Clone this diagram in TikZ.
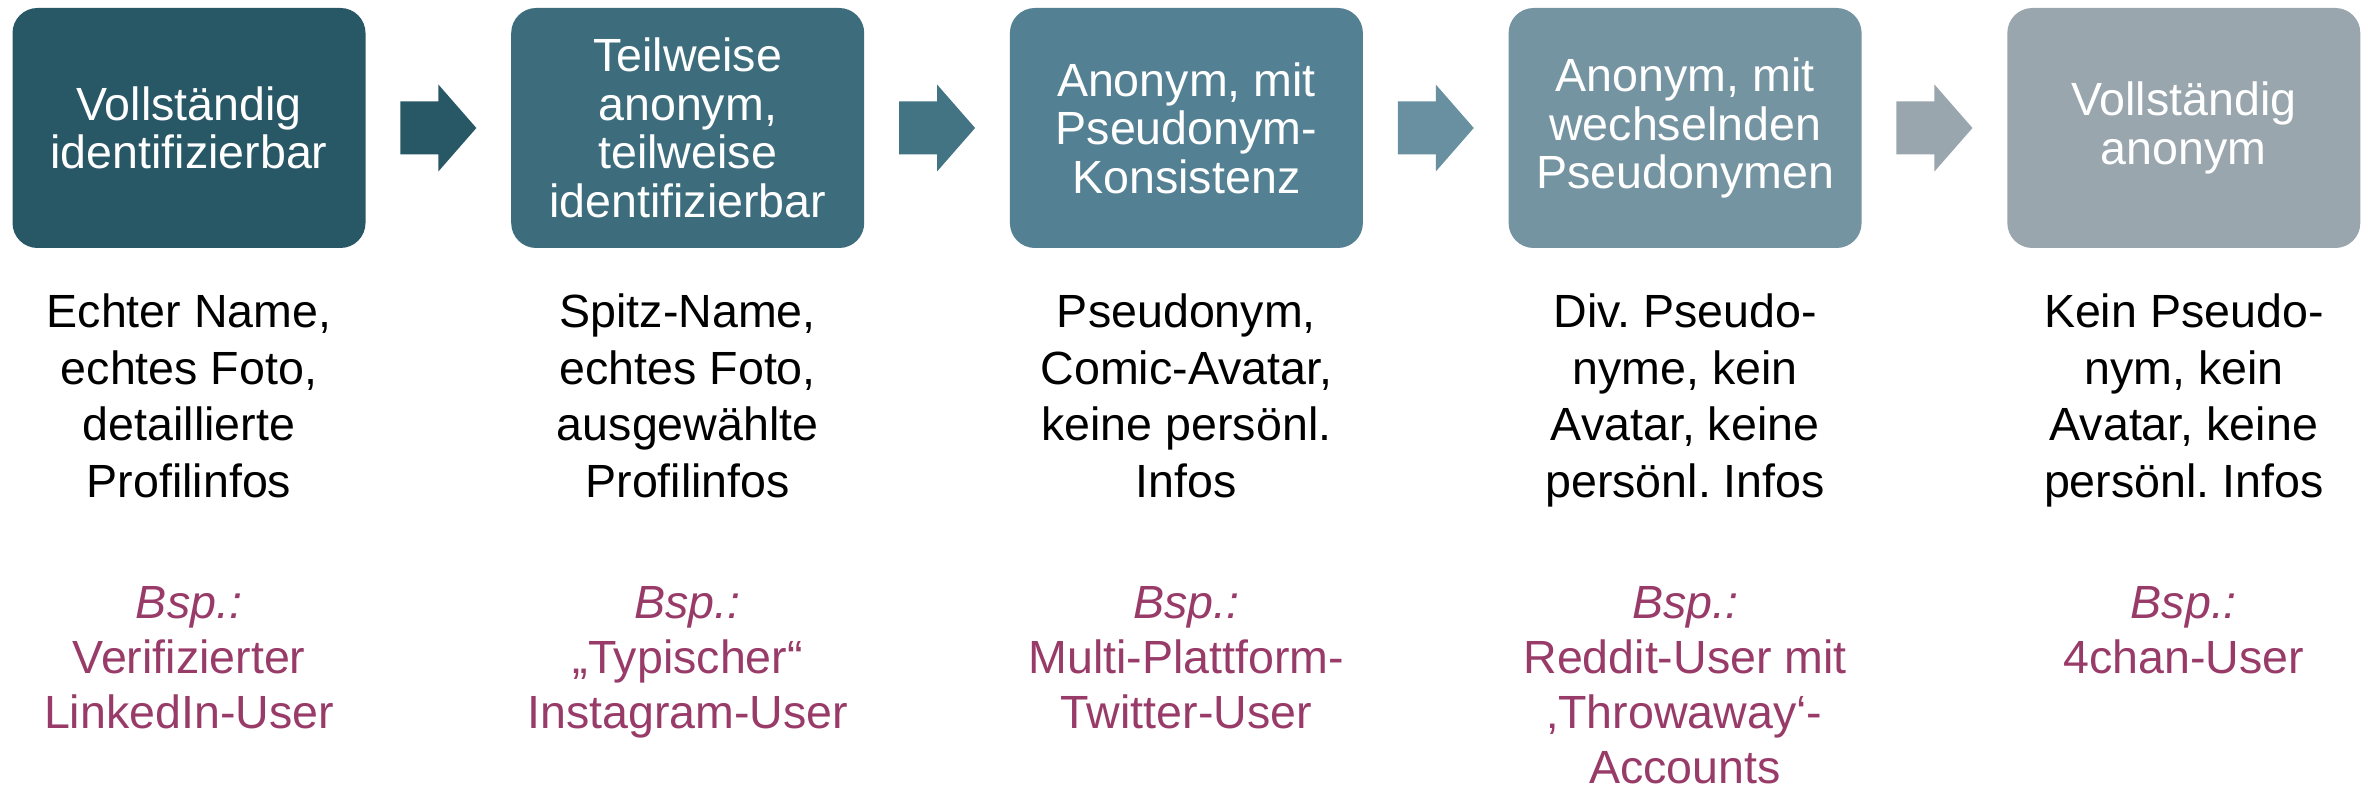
\documentclass[tikz,border=0pt]{standalone}
\usepackage{fontspec}
\setmainfont{Liberation Sans}
\usepackage{tikz}
\usetikzlibrary{calc,positioning}
\usepackage{xcolor}
\definecolor{stageA}{HTML}{285866}
\definecolor{stageB}{HTML}{3D6D7D}
\definecolor{stageC}{HTML}{538193}
\definecolor{stageD}{HTML}{7494A1}
\definecolor{stageE}{HTML}{99A6AE}
\definecolor{arrowB}{HTML}{427484}
\definecolor{arrowC}{HTML}{6890A0}
\definecolor{bspcol}{HTML}{983B68}
\frenchspacing

\begin{document}
\begin{tikzpicture}[
  stage/.style={rounded corners=0.5cm, minimum width=7.06cm, minimum height=4.8cm, inner sep=0pt,
    text=white, align=center, font=\fontsize{26.5}{27.6}\selectfont},
  desc/.style={inner sep=0pt, align=center, font=\fontsize{26.5}{32.2}\selectfont},
  bsp/.style={inner sep=0pt, align=center, text=bspcol, font=\fontsize{26.5}{31.4}\selectfont}
]
  \useasboundingbox (0,0) rectangle (47.24,-15.8);
  % the five stages
  \node[stage, fill=stageA] (box1) at (3.78,-2.56) {Vollständig\\identifizierbar};
  \node[stage, fill=stageB, right=2.9cm of box1] (box2) {Teilweise\\anonym,\\teilweise\\identifizierbar};
  \node[stage, fill=stageC, right=2.9cm of box2] (box3) {Anonym, mit\\Pseudonym-\\Konsistenz};
  \node[stage, fill=stageD, right=2.9cm of box3] (box4) {Anonym, mit\\wechselnden\\Pseudonymen};
  \node[stage, fill=stageE, right=2.9cm of box4] (box5) {Vollständig\\anonym};
  % block arrows in the gaps
  \foreach \a/\b/\c in {1/2/stageA, 2/3/arrowB, 3/4/arrowC, 4/5/stageE}{
    \coordinate (gap\a) at ($(box\a.east)!0.5!(box\b.west)$);
    \fill[\c] (gap\a) ++(-0.76,-0.53) -- ++(0.76,0) -- ++(0,-0.34) -- ++(0.76,0.87)
      -- ++(-0.76,0.87) -- ++(0,-0.34) -- ++(-0.76,0) -- cycle;
  }
  % descriptions
  \node[desc, below=0.9cm of box1] (desc1) {Echter Name,\\echtes Foto,\\detaillierte\\Profilinfos};
  \node[desc, below=0.9cm of box2] (desc2) {Spitz-Name,\\echtes Foto,\\ausgewählte\\Profilinfos};
  \node[desc, below=0.9cm of box3] (desc3) {Pseudonym,\\Comic-Avatar,\\keine persönl.\\Infos};
  \node[desc, below=0.9cm of box4] (desc4) {Div. Pseudo-\\nyme, kein\\Avatar, keine\\persönl. Infos};
  \node[desc, below=0.9cm of box5] (desc5) {Kein Pseudo-\\nym, kein\\Avatar, keine\\persönl. Infos};
  % examples
  \node[bsp, below=6.75cm of box1] (bsp1) {\textit{Bsp.:}\\Verifizierter\\LinkedIn-User};
  \node[bsp, below=6.75cm of box2] (bsp2) {\textit{Bsp.:}\\„Typischer“\\Instagram-User};
  \node[bsp, below=6.75cm of box3] (bsp3) {\textit{Bsp.:}\\Multi-Plattform-\\Twitter-User};
  \node[bsp, below=6.75cm of box4] (bsp4) {\textit{Bsp.:}\\Reddit-User mit\\‚Throwaway‘-\\Accounts};
  \node[bsp, below=6.75cm of box5] (bsp5) {\textit{Bsp.:}\\4chan-User};
\end{tikzpicture}
\end{document}
